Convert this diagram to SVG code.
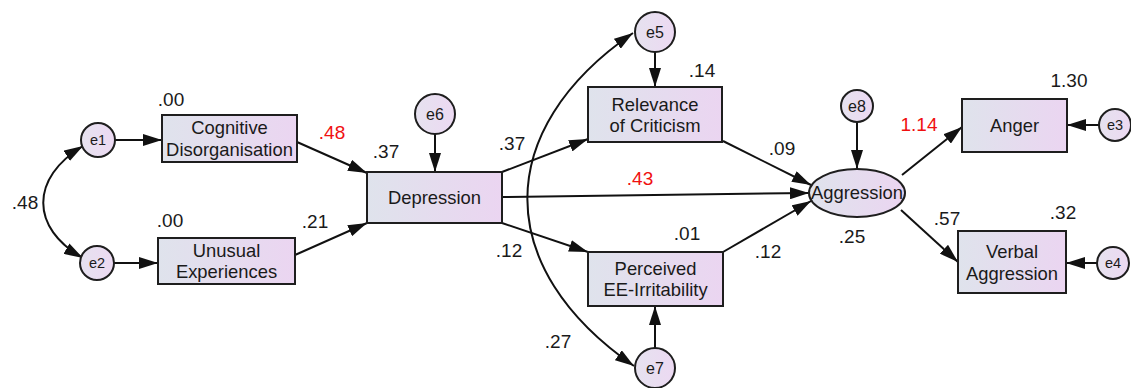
<svg xmlns="http://www.w3.org/2000/svg" width="1131" height="388" viewBox="0 0 1131 388">
<defs>
<linearGradient id="gBox" x1="0" y1="0" x2="1" y2="0">
<stop offset="0" stop-color="#dfe3ec"/>
<stop offset="1" stop-color="#ebd5f1"/>
</linearGradient>
<linearGradient id="gCirc" x1="0" y1="0" x2="1" y2="0">
<stop offset="0" stop-color="#e6e2ef"/>
<stop offset="1" stop-color="#ecd9f2"/>
</linearGradient>
<marker id="arr" markerUnits="userSpaceOnUse" markerWidth="19" markerHeight="12" refX="19" refY="6" orient="auto-start-reverse" viewBox="0 0 19 12">
<path d="M0,0 L19,6 L0,12 z" fill="#111"/>
</marker>
<style>
.box{fill:url(#gBox);stroke:#1e1e1e;stroke-width:2}
.circ{fill:url(#gCirc);stroke:#1e1e1e;stroke-width:2}
.t{font-family:"Liberation Sans",Arial,sans-serif;font-size:18.4px;fill:#1a1a1a;text-anchor:middle}
.n{font-family:"Liberation Sans",Arial,sans-serif;font-size:19px;fill:#1a1a1a;text-anchor:middle}
.e{font-family:"Liberation Sans",Arial,sans-serif;font-size:14.5px;fill:#1a1a1a;text-anchor:middle}
.eb{font-size:16px}
.red{fill:#f01010}
.c{fill:none;stroke:#111;stroke-width:2;marker-end:url(#arr)}
.cc{fill:none;stroke:#111;stroke-width:2;marker-end:url(#arr);marker-start:url(#arr)}
</style>
</defs>

<g id="connectors">
<path class="cc" d="M83,146 C30,178 30,228 83,258"/>
<path class="cc" d="M633,33 C492,130 492,268 634,366"/>
<line class="c" x1="115" y1="140" x2="162" y2="140"/>
<line class="c" x1="114" y1="263" x2="158" y2="263"/>
<line class="c" x1="297" y1="142" x2="367" y2="173"/>
<line class="c" x1="295" y1="255" x2="367" y2="223"/>
<line class="c" x1="435" y1="134" x2="435" y2="172"/>
<line class="c" x1="502" y1="172" x2="588" y2="139"/>
<line class="c" x1="502" y1="223" x2="588" y2="252"/>
<line class="c" x1="502" y1="197" x2="809" y2="193"/>
<line class="c" x1="655" y1="52" x2="655" y2="87"/>
<line class="c" x1="655" y1="348" x2="655" y2="306"/>
<line class="c" x1="723" y1="141" x2="811" y2="185"/>
<line class="c" x1="723" y1="252" x2="811" y2="201"/>
<line class="c" x1="857" y1="122" x2="857" y2="169"/>
<line class="c" x1="902" y1="175" x2="962" y2="127"/>
<line class="c" x1="901" y1="210" x2="958" y2="262"/>
<line class="c" x1="1099" y1="125" x2="1067" y2="125"/>
<line class="c" x1="1097" y1="263" x2="1066" y2="263"/>
</g>

<g id="e1"><circle class="circ" cx="98" cy="140" r="17"/><text class="e" x="98" y="145">e1</text></g>
<g id="e2"><circle class="circ" cx="97" cy="263" r="17"/><text class="e" x="97" y="268">e2</text></g>
<g id="e3"><circle class="circ" cx="1115" cy="125" r="16"/><text class="e" x="1115" y="130">e3</text></g>
<g id="e4"><circle class="circ" cx="1113" cy="263" r="16"/><text class="e" x="1113" y="268">e4</text></g>
<g id="e5"><circle class="circ" cx="655" cy="32" r="20"/><text class="e eb" x="655" y="38">e5</text></g>
<g id="e6"><circle class="circ" cx="435" cy="114" r="20"/><text class="e eb" x="435" y="120">e6</text></g>
<g id="e7"><circle class="circ" cx="655" cy="368" r="20"/><text class="e eb" x="655" y="374">e7</text></g>
<g id="e8"><circle class="circ" cx="857" cy="106" r="16"/><text class="e eb" x="857" y="112">e8</text></g>

<g id="cognitive"><rect class="box" x="162" y="115" width="135" height="47"/><text class="t" x="229.5" y="134">Cognitive</text><text class="t" x="229.5" y="156">Disorganisation</text></g>
<g id="unusual"><rect class="box" x="158" y="238" width="137" height="46"/><text class="t" x="226.5" y="257">Unusual</text><text class="t" x="226.5" y="278">Experiences</text></g>
<g id="depression"><rect class="box" x="367" y="172" width="135" height="51"/><text class="t" x="434.5" y="204">Depression</text></g>
<g id="relevance"><rect class="box" x="588" y="87" width="134" height="55"/><text class="t" x="655" y="111">Relevance</text><text class="t" x="655" y="132">of Criticism</text></g>
<g id="perceived"><rect class="box" x="588" y="252" width="135" height="54"/><text class="t" x="655.5" y="275">Perceived</text><text class="t" x="655.5" y="296">EE-Irritability</text></g>
<g id="aggression"><ellipse class="box" cx="857" cy="193" rx="48" ry="24"/><text class="t" x="857" y="199">Aggression</text></g>
<g id="anger"><rect class="box" x="962" y="99" width="105" height="53"/><text class="t" x="1014.5" y="132">Anger</text></g>
<g id="verbal"><rect class="box" x="958" y="231" width="108" height="62"/><text class="t" x="1012" y="258">Verbal</text><text class="t" x="1012" y="280">Aggression</text></g>

<g id="labels">
<text class="n" x="171" y="106">.00</text>
<text class="n red" x="332" y="139">.48</text>
<text class="n" x="25" y="209">.48</text>
<text class="n" x="170" y="227">.00</text>
<text class="n" x="315" y="228">.21</text>
<text class="n" x="386" y="158">.37</text>
<text class="n" x="512" y="150">.37</text>
<text class="n" x="702" y="77">.14</text>
<text class="n red" x="640" y="185">.43</text>
<text class="n" x="509" y="257">.12</text>
<text class="n" x="687" y="240">.01</text>
<text class="n" x="558" y="348">.27</text>
<text class="n" x="782" y="155">.09</text>
<text class="n" x="768" y="258">.12</text>
<text class="n" x="852" y="243">.25</text>
<text class="n" x="947" y="225">.57</text>
<text class="n" x="1063" y="219">.32</text>
<text class="n" x="1069" y="87">1.30</text>
<text class="n red" x="919" y="131">1.14</text>
</g>
</svg>
